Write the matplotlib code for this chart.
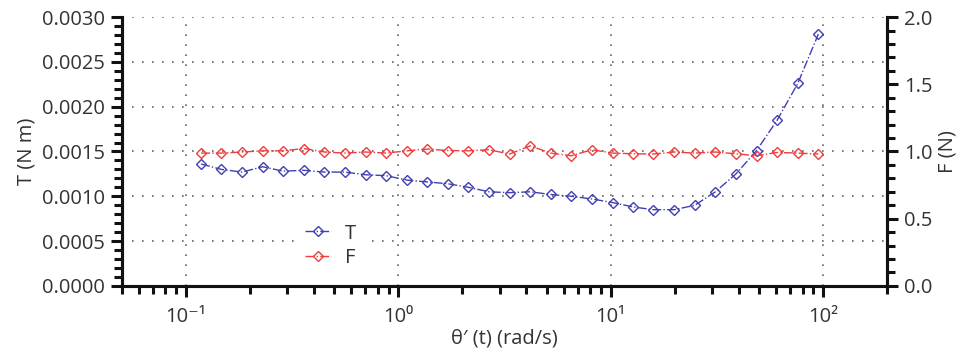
import numpy as np
import matplotlib
matplotlib.use("Agg")
import matplotlib.pyplot as plt
from matplotlib.ticker import MultipleLocator, FixedLocator, FixedFormatter, LogLocator, NullFormatter

plt.rcParams['font.family'] = ['Open Sans', 'DejaVu Sans']

# angular velocity (rad/s)
omega = [0.118, 0.147, 0.184, 0.230, 0.287, 0.359, 0.449, 0.561, 0.701, 0.876,
         1.10, 1.37, 1.71, 2.14, 2.67, 3.34, 4.18, 5.22, 6.53, 8.16,
         10.2, 12.8, 15.9, 19.9, 24.9, 31.1, 38.9, 48.6, 60.8, 76.0, 95.0]

# torque (N m)
torque = [0.00136, 0.00130, 0.00127, 0.00133, 0.00128, 0.00129, 0.00127, 0.00127, 0.00124, 0.00123,
          0.00118, 0.00116, 0.00114, 0.00110, 0.00105, 0.00104, 0.00105, 0.00102, 0.00100, 0.00097,
          0.00093, 0.00088, 0.00085, 0.00085, 0.00090, 0.00105, 0.00125, 0.00151, 0.00185, 0.00226, 0.00281]

# normal force (N)
force = [0.988, 0.988, 0.996, 1.005, 1.005, 1.022, 0.996, 0.988, 0.996, 0.988,
         1.005, 1.018, 1.007, 1.005, 1.013, 0.981, 1.042, 0.988, 0.968, 1.013,
         0.988, 0.983, 0.981, 0.996, 0.988, 0.996, 0.983, 0.968, 0.993, 0.988, 0.981]

xticks = [0.1, 1, 10, 100]
xtick_labels = ['10⁻¹', '10⁰', '10¹', '10²']

blue = '#4040b0'
red = '#f03c3c'
txt = '#333333'
fs = 14.5

fig = plt.figure(figsize=(9.6, 3.56), dpi=100)
ax = fig.add_axes([0.127, 0.197, 0.797, 0.755])
ax2 = ax.twinx()

l1, = ax.plot(omega, torque, linestyle='-.', lw=1.0, color=blue, marker='D',
              ms=5, mfc='none', mew=1.0, label='T')
l2, = ax2.plot(omega, force, linestyle='-.', lw=1.0, color=red, marker='D',
               ms=5, mfc='none', mew=1.0, label='F')

ax.set_xscale('log')
ax.set_xlim(0.05, 200)
ax.set_ylim(0, 0.003)
ax2.set_ylim(0, 2.0)

ax.xaxis.set_major_locator(FixedLocator(xticks))
ax.xaxis.set_major_formatter(FixedFormatter(xtick_labels))
ax.xaxis.set_minor_locator(LogLocator(base=10, subs=np.arange(2, 10)))
ax.xaxis.set_minor_formatter(NullFormatter())

ax.yaxis.set_major_locator(MultipleLocator(0.0005))
ax.yaxis.set_minor_locator(MultipleLocator(0.0001))
ax.yaxis.set_major_formatter(matplotlib.ticker.FormatStrFormatter('%.4f'))
ax2.yaxis.set_major_locator(MultipleLocator(0.5))
ax2.yaxis.set_minor_locator(MultipleLocator(0.1))
ax2.yaxis.set_major_formatter(matplotlib.ticker.FormatStrFormatter('%.1f'))

# grid from the left axis only
ax.grid(True, which='major', axis='both', linestyle=(0, (1, 5)), color='#666666', lw=1.2)
ygl = ax.get_ygridlines()
ygl[0].set_visible(False)
ygl[-1].set_visible(False)

for a in (ax, ax2):
    for s in a.spines.values():
        s.set_linewidth(2.2)
        s.set_color('#111111')
    a.spines['top'].set_visible(False)
    a.tick_params(which='major', length=8, width=2.2, color='#111111',
                  labelsize=fs, labelcolor=txt)
    a.tick_params(which='minor', length=6, width=2.2, color='#111111')

ax.tick_params(axis='x', which='major', pad=7)
ax.tick_params(axis='y', which='major', pad=4)
ax2.tick_params(axis='y', which='major', pad=4)

ax.set_ylabel('T (N m)', fontsize=fs, color=txt, labelpad=4)
ax2.set_ylabel('F (N)', fontsize=fs, color=txt, labelpad=4)
ax.set_xlabel('θ′ (t) (rad/s)', fontsize=fs, color=txt, labelpad=1)

leg = ax2.legend(handles=[l1, l2], loc='center left', bbox_to_anchor=(0.215, 0.15),
                 frameon=True, fontsize=fs, handlelength=1.3, handletextpad=0.7,
                 labelspacing=0.2, borderpad=0.4)
leg.get_frame().set_edgecolor('none')
leg.get_frame().set_facecolor('white')
leg.get_frame().set_alpha(1.0)
for t in leg.get_texts():
    t.set_color(txt)

fig.savefig('out.png', dpi=100)
